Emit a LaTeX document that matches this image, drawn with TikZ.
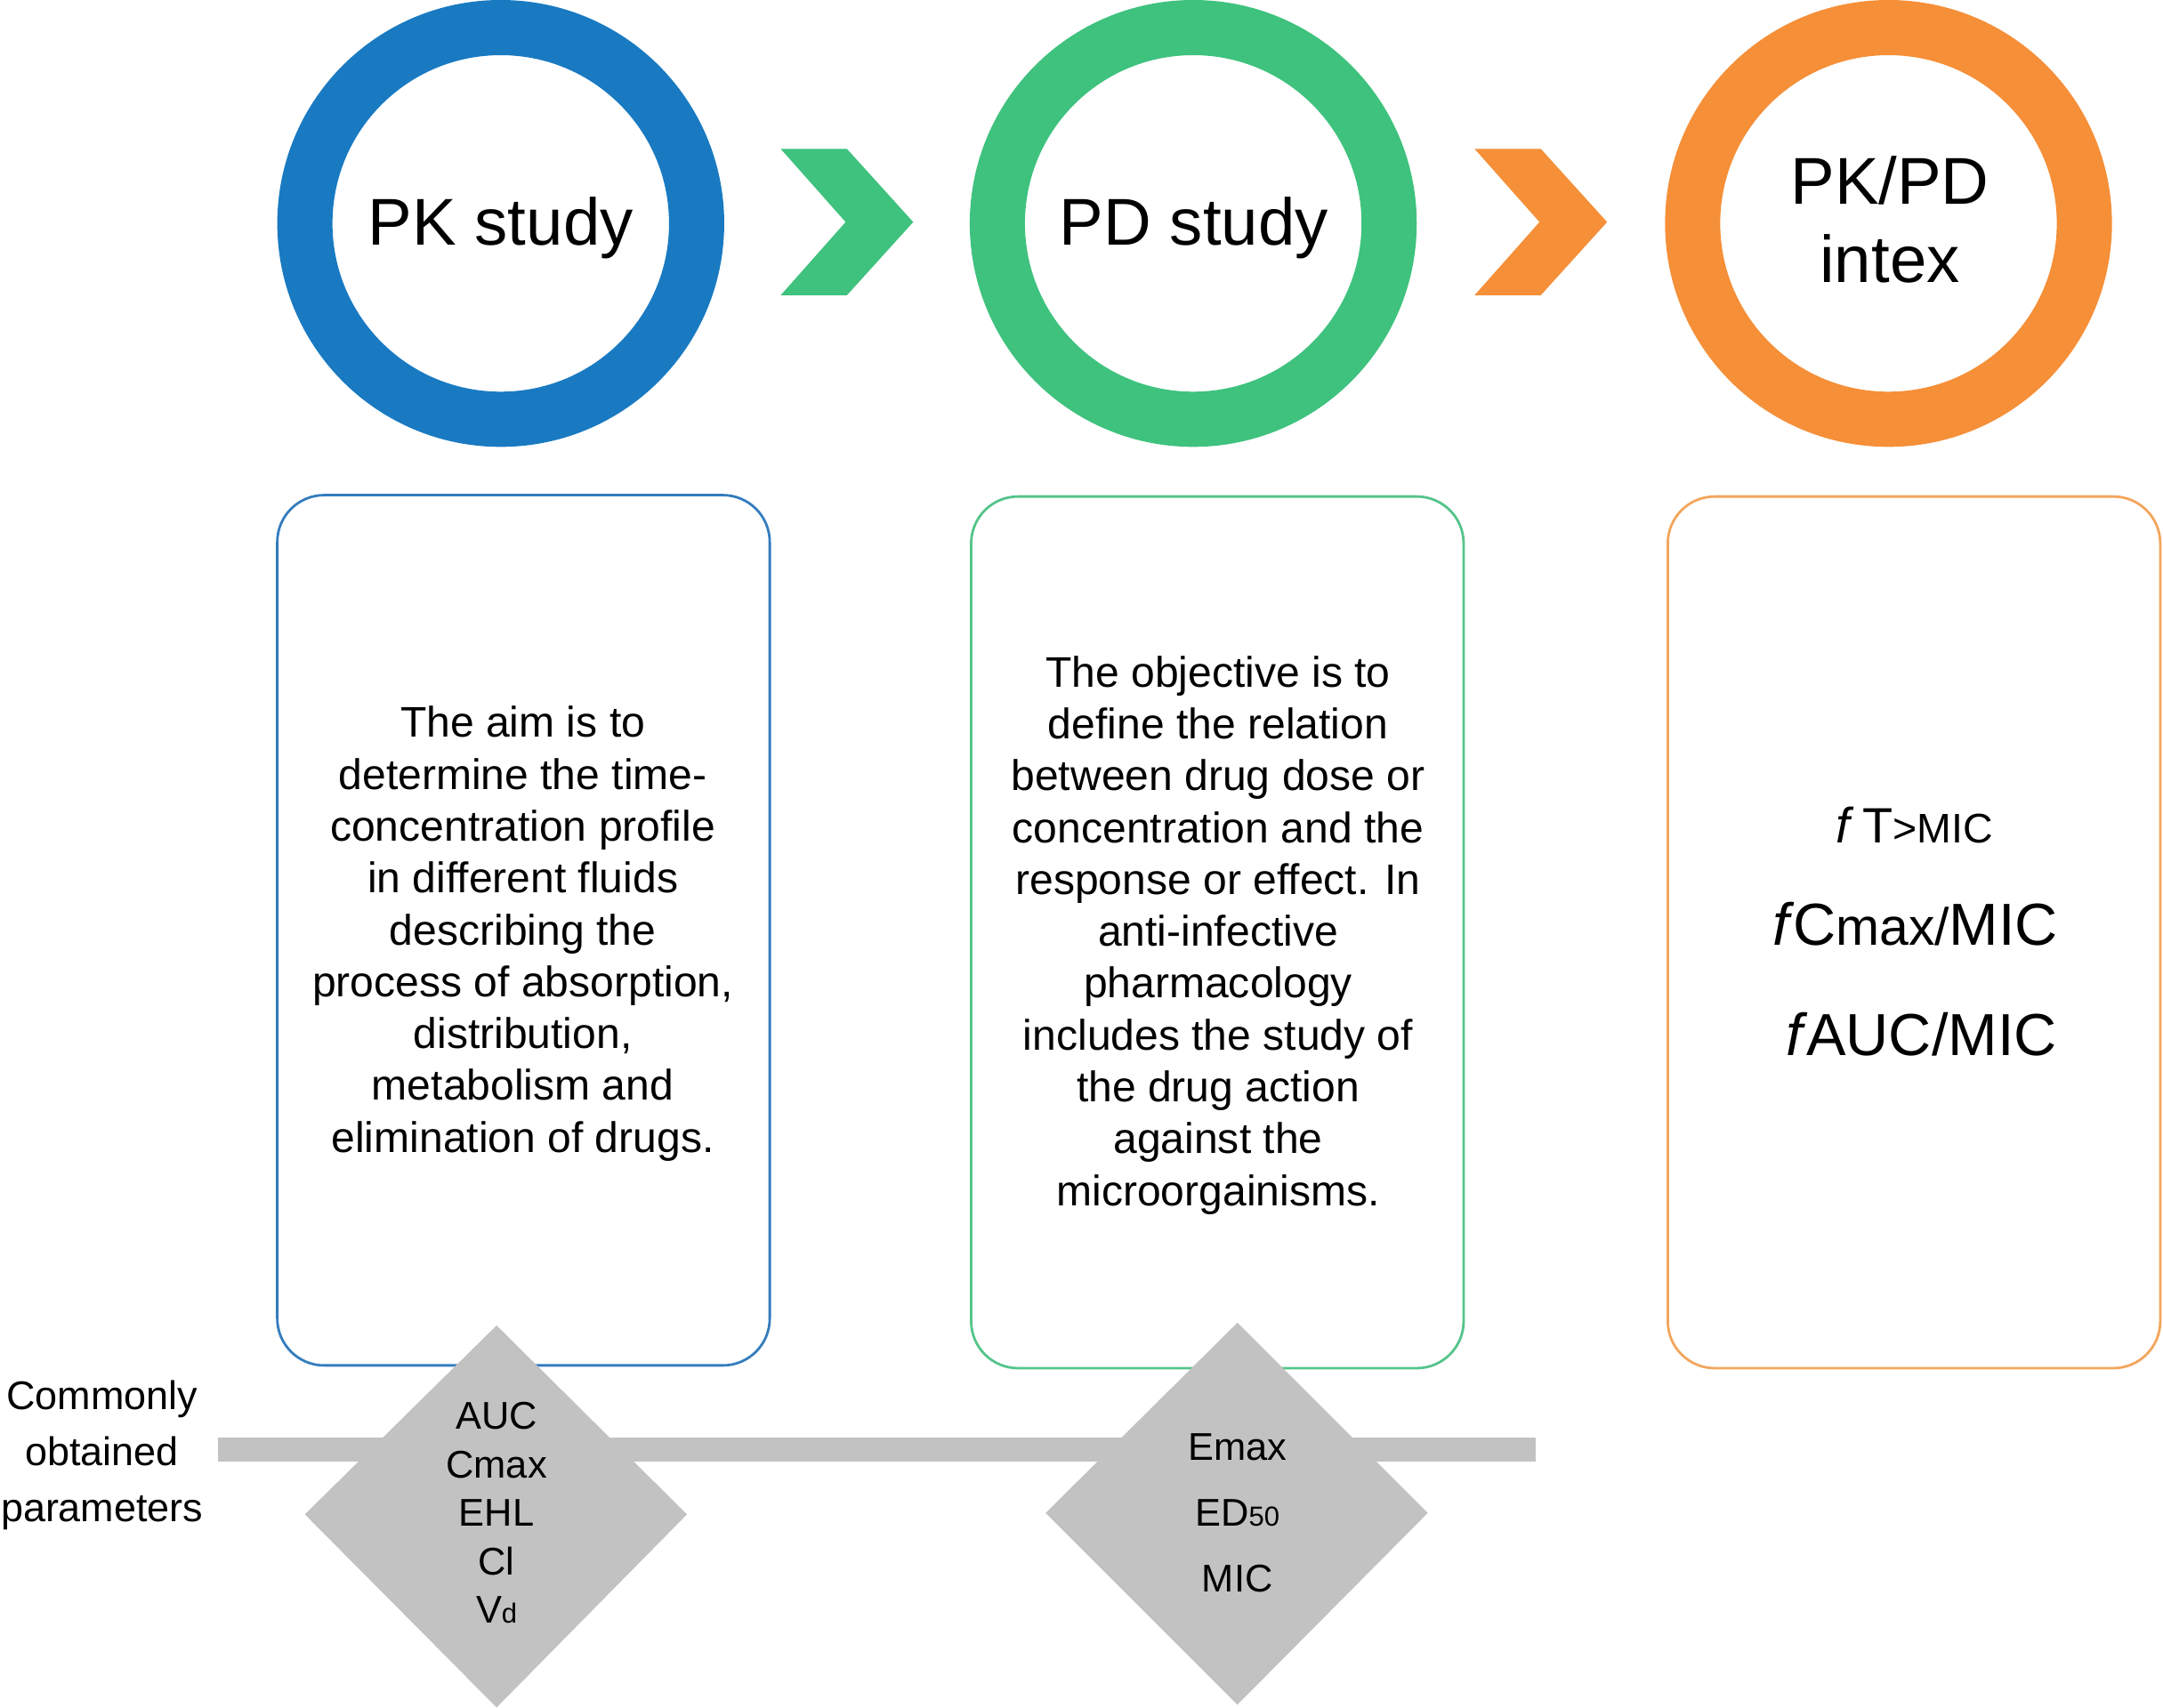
\documentclass[tikz,border=0pt]{standalone}
\usepackage{fontspec}
\setmainfont{Liberation Sans}
\definecolor{pkblue}{RGB}{25,122,194}
\definecolor{pdgreen}{RGB}{62,194,125}
\definecolor{idxorange}{RGB}{245,143,56}
\definecolor{boxblue}{RGB}{52,124,190}
\definecolor{boxgreen}{RGB}{84,196,138}
\definecolor{boxorange}{RGB}{243,165,92}
\definecolor{bargray}{RGB}{194,194,194}
\tikzset{
  ring/.style={draw, line width=40pt, circle, minimum size=284pt, inner sep=0pt},
  infobox/.style={draw, line width=1.8pt, rounded corners=34pt},
  ringtext/.style={font=\fontsize{48}{58}\selectfont, inner sep=0pt, align=center},
  bodytext/.style={font=\fontsize{31}{37.6}\selectfont, inner sep=0pt, align=center},
  paramtext/.style={font=\fontsize{28}{35.2}\selectfont, inner sep=0pt, align=center},
  sidetext/.style={font=\fontsize{29}{40.5}\selectfont, inner sep=0pt, align=center},
  diam/.style={fill=bargray, draw=none},
}
\newcommand{\smsub}[1]{{\fontsize{20}{20}\selectfont #1}}
\begin{document}
\begin{tikzpicture}[x=1pt,y=-1pt]
\useasboundingbox (0,0) rectangle (1568,1238);
% rings
\node[ring, draw=pkblue] (pkring) at (363,162) {};
\node[ring, draw=pdgreen] (pdring) at (865,162) {};
\node[ring, draw=idxorange] (ixring) at (1369,162) {};
% chevrons
\fill[pdgreen] (566,108) -- (614,108) -- (662,161) -- (614,214) -- (566,214) -- (613,161) -- cycle;
\fill[idxorange] (1069,108) -- (1117,108) -- (1165,161) -- (1117,214) -- (1069,214) -- (1116,161) -- cycle;
% ring texts
\node[ringtext, anchor=base] (pkt) at (363,178) {PK study};
\node[ringtext, anchor=base] (pdt) at (865.5,178) {PD study};
\node[ringtext, anchor=base] (ixt1) at (1370,148) {PK/PD};
\node[ringtext, anchor=base] (ixt2) at (1370,205) {intex};
% boxes
\draw[infobox, draw=boxblue] (201,359) rectangle (558,990);
\draw[infobox, draw=boxgreen] (704,360) rectangle (1061,992);
\draw[infobox, draw=boxorange] (1209,360) rectangle (1566,992);
% bar
\fill[bargray] (158,1042) rectangle (1113,1060);
% diamonds
\fill[diam] (360,961) -- (498,1098) -- (360,1238) -- (221,1098) -- cycle;
\fill[diam] (897,959) -- (1035,1097) -- (897,1236) -- (758,1097) -- cycle;
% box texts
\node[bodytext] (pktext) at (379,677) {The aim is to\\determine the time-\\concentration profile\\in different fluids\\describing the\\process of absorption,\\distribution,\\metabolism and\\elimination of drugs.};
\node[bodytext] (pdtext) at (883,678) {The objective is to\\define the relation\\between drug dose or\\concentration and the\\response or effect. In\\anti-infective\\pharmacology\\includes the study of\\the drug action\\against the\\microorgainisms.};
\node[inner sep=0pt, anchor=base, font=\fontsize{36}{36}\selectfont] (ix1) at (1388,611) {\textit{f}\,T{\fontsize{30}{30}\selectfont >MIC}};
\node[inner sep=0pt, anchor=base, font=\fontsize{43}{43}\selectfont] (ix2) at (1388.5,685) {\textit{f}\kern-1ptC{\fontsize{38}{38}\selectfont max/}MIC};
\node[inner sep=0pt, anchor=base, font=\fontsize{43}{43}\selectfont] (ix3) at (1393,765) {\textit{f}\kern-1ptAUC/MIC};
% side label
\node[sidetext] (side) at (74,1055) {Commonly\\obtained\\parameters};
% diamond texts
\node[paramtext] (pkpar) at (360,1097) {AUC\\Cmax\\EHL\\Cl\\V\smsub{d}};
\node[font=\fontsize{28}{47.5}\selectfont, inner sep=0pt, align=center] (pdpar) at (897,1097) {Emax\\ED\smsub{50}\\MIC};
\end{tikzpicture}
\end{document}
